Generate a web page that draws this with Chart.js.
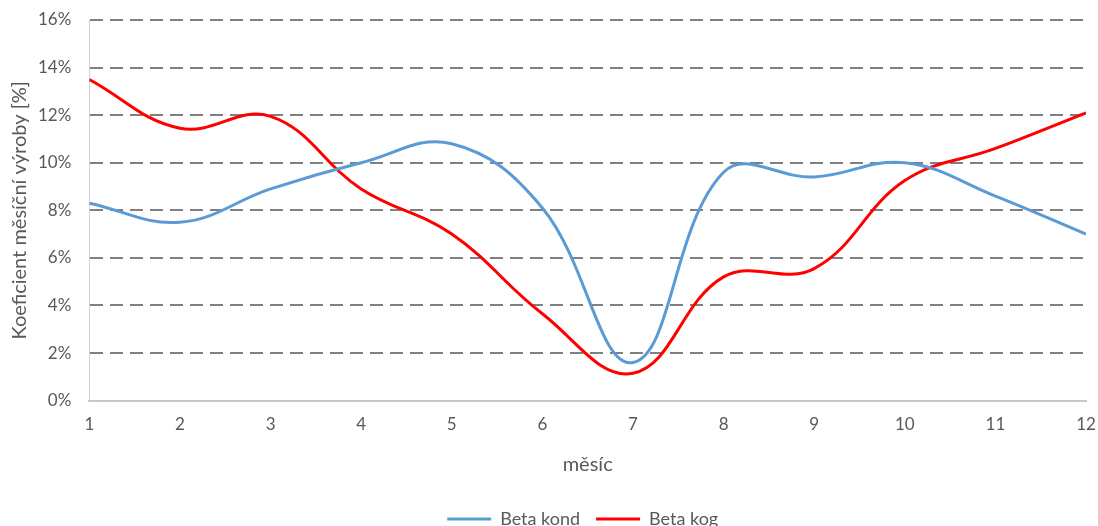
<!DOCTYPE html>
<html>
<head>
<meta charset="utf-8">
<script src="https://cdn.jsdelivr.net/npm/chart.js@4/dist/chart.umd.min.js"></script>
<style>
  html, body { margin: 0; padding: 0; background: #fff; }
  #wrap { width: 1098px; height: 526px; }
</style>
</head>
<body>
<div id="wrap"><canvas id="c" width="1098" height="526"></canvas></div>
<script>
// Months of the year (x axis)
const months = [1, 2, 3, 4, 5, 6, 7, 8, 9, 10, 11, 12];
// Monthly production coefficient, in percent
const betaKond = [8.3, 7.5, 8.9, 10.0, 10.8, 8.1, 1.6, 9.6, 9.4, 10.0, 8.6, 7.0];
const betaKog  = [13.5, 11.45, 11.95, 8.9, 7.0, 3.65, 1.15, 5.2, 5.55, 9.25, 10.6, 12.1];
// Y axis ticks
const yTicks = [0, 2, 4, 6, 8, 10, 12, 14, 16];

const FONT = "Lato, 'Liberation Sans', Arial, sans-serif";
const GREY = '#595959';

const toXY = (vals) => months.map((m, i) => ({ x: m, y: vals[i] }));

// Centre the legend under the plot area rather than the whole canvas
const legendUnderPlot = {
  id: 'legendUnderPlot',
  afterLayout(chart) {
    const lg = chart.legend, area = chart.chartArea;
    if (!lg) return;
    const shift = (area.left + area.right) / 2 - (lg.left + lg.right) / 2 - 5;
    lg.left += shift;
    lg.right += shift;
  }
};

new Chart(document.getElementById('c'), {
  type: 'line',
  data: {
    datasets: [
      {
        label: 'Beta kond',
        data: toXY(betaKond),
        borderColor: '#5B9BD5',
        backgroundColor: '#5B9BD5',
        borderWidth: 3,
        pointRadius: 0,
        tension: 0.4
      },
      {
        label: 'Beta kog',
        data: toXY(betaKog),
        borderColor: '#FF0000',
        backgroundColor: '#FF0000',
        borderWidth: 3,
        pointRadius: 0,
        tension: 0.4
      }
    ]
  },
  plugins: [legendUnderPlot],
  options: {
    responsive: false,
    animation: false,
    layout: { padding: { top: 20, right: 12, left: -1, bottom: -12 } },
    plugins: {
      tooltip: { enabled: false },
      legend: {
        position: 'bottom',
        labels: {
          usePointStyle: true,
          pointStyle: 'line',
          pointStyleWidth: 44,
          boxHeight: 3,
          color: GREY,
          font: { family: FONT, size: 18 },
          padding: 16
        }
      }
    },
    scales: {
      x: {
        type: 'linear',
        min: 1,
        max: 12,
        // edge label overhang is covered by the layout padding
        afterFit: (scale) => { scale.paddingLeft = 0; scale.paddingRight = 0; },
        ticks: {
          stepSize: 1,
          color: GREY,
          font: { family: FONT, size: 17 },
          padding: 14
        },
        grid: { display: true, color: 'rgba(0,0,0,0)', drawTicks: false },
        border: { display: true, color: '#c8c8c8', width: 2 },
        title: {
          display: true,
          text: 'měsíc',
          color: GREY,
          font: { family: FONT, size: 20 },
          padding: { top: 4, bottom: 17 }
        }
      },
      y: {
        min: 0,
        max: 16,
        afterBuildTicks: (scale) => { scale.ticks = yTicks.map(v => ({ value: v })); },
        afterFit: (scale) => { scale.paddingTop = 0; scale.paddingBottom = 0; },
        ticks: {
          color: GREY,
          font: { family: FONT, size: 17 },
          padding: 18,
          callback: (v) => v + '%'
        },
        grid: {
          drawTicks: false,
          lineWidth: 2,
          color: (ctx) => (ctx.tick && ctx.tick.value === 0) ? 'rgba(0,0,0,0)' : '#808080'
        },
        border: { display: true, color: '#d0d0d0', width: 1, dash: [13, 7] },
        title: {
          display: true,
          text: 'Koeficient měsíční výroby [%]',
          color: GREY,
          font: { family: FONT, size: 20 },
          padding: { top: 9, bottom: -12 }
        }
      }
    }
  }
});
</script>
</body>
</html>
